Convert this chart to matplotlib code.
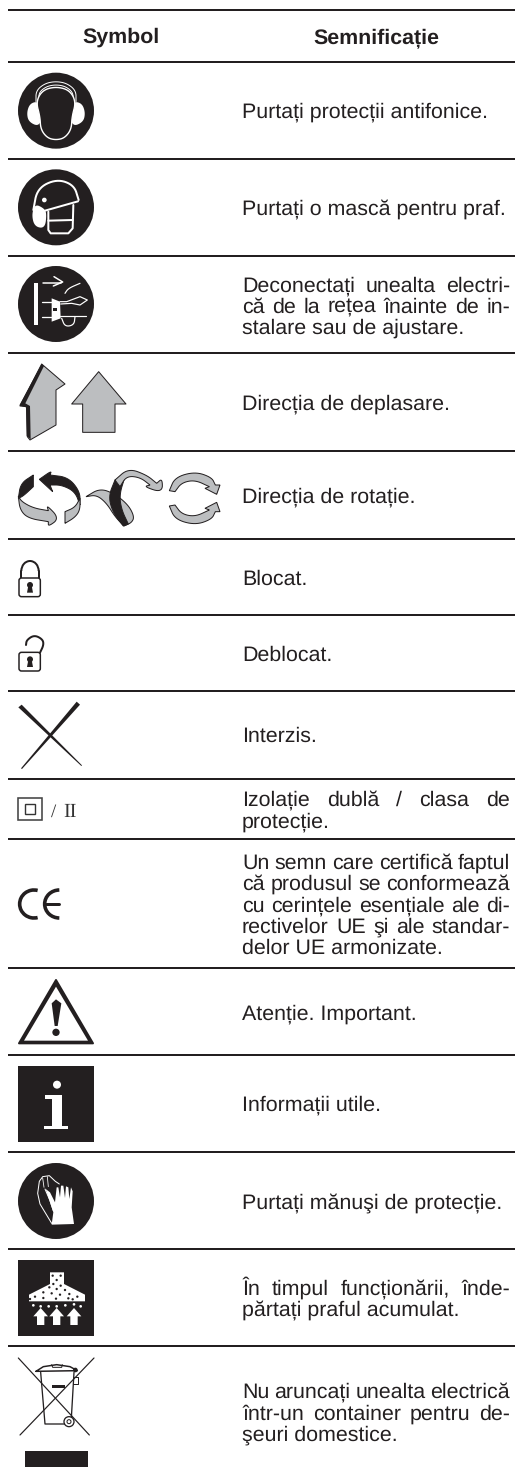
import numpy as np
import matplotlib
matplotlib.use('Agg')
import matplotlib.pyplot as plt
from matplotlib.patches import Polygon, Circle, Rectangle, Arc, FancyBboxPatch

# table contents
headers = ['Symbol', 'Semnificație']
header_x = [121, 376]
header_base = 43
rule_ys = [9.5, 62, 159, 256, 353, 451, 539, 615, 691, 779, 839, 968, 1055, 1152, 1249, 1346]

# (baseline, text, justified)
text_lines = [
    (118, 'Purtați protecții antifonice.', False),
    (215, 'Purtați o mască pentru praf.', False),
    (292, 'Deconectați unealta electri-', True),
    (313, 'că de la rețea înainte de in-', True),
    (334, 'stalare sau de ajustare.', False),
    (410, 'Direcția de deplasare.', False),
    (503, 'Direcția de rotație.', False),
    (585, 'Blocat.', False),
    (661, 'Deblocat.', False),
    (742, 'Interzis.', False),
    (806, 'Izolație dublă / clasa de', True),
    (828, 'protecție.', False),
    (869, 'Un semn care certifică faptul', True),
    (890, 'că produsul se conformează', True),
    (912, 'cu cerințele esențiale ale di-', True),
    (933, 'rectivelor UE şi ale standar-', True),
    (954, 'delor UE armonizate.', False),
    (1020, 'Atenție. Important.', False),
    (1111, 'Informații utile.', False),
    (1209, 'Purtați mănuşi de protecție.', False),
    (1295, 'În timpul funcționării, înde-', True),
    (1316, 'părtați praful acumulat.', False),
    (1398, 'Nu aruncați unealta electrică', True),
    (1420, 'într-un container pentru de-', True),
    (1441, 'şeuri domestice.', False),
]

INK = '#231f20'
GRAY = '#bcbec0'
TEXT_X = 242
TEXT_R = 510
FS = 15.4

plt.rcParams['font.family'] = ['Liberation Sans', 'DejaVu Sans']
plt.rcParams['text.hinting'] = 'none'

fig = plt.figure(figsize=(5.15, 14.74), dpi=100)
ax = fig.add_axes([0, 0, 1, 1])
ax.set_xlim(0, 515)
ax.set_ylim(1474, 0)
ax.axis('off')
px = 0.72  # one pixel in points


def z(pts, y0):
    a = np.array(pts, dtype=float) / 3
    a[:, 1] += y0
    return a


def smooth(a, closed=True, n=3):
    for _ in range(n):
        b = np.roll(a, -1, axis=0) if closed else a[1:]
        c = a if closed else a[:-1]
        q = 0.75 * c + 0.25 * b
        r = 0.25 * c + 0.75 * b
        new = np.empty((len(q) * 2, 2))
        new[0::2] = q
        new[1::2] = r
        if not closed:
            new = np.vstack([a[0], new, a[-1]])
        a = new
    return a


def poly(pts, y0, fc=INK, ec='none', lw=0, soft=False, zorder=2):
    a = z(pts, y0)
    if soft:
        a = smooth(a)
    ax.add_patch(Polygon(a, closed=True, fc=fc, ec=ec, lw=lw * px, joinstyle='round', zorder=zorder))


def curvy(parts, y0, fc=GRAY, ec=INK, lw=1):
    # outline made of curved runs that meet at sharp corners
    a = np.vstack([smooth(z(p, y0), closed=False) for p in parts])
    ax.add_patch(Polygon(a, closed=True, fc=fc, ec=ec, lw=lw * px, joinstyle='miter'))


def line(pts, y0, c=INK, lw=1, soft=False):
    a = z(pts, y0)
    if soft:
        a = smooth(a, closed=False)
    ax.plot(a[:, 0], a[:, 1], color=c, lw=lw * px, solid_capstyle='round')


def disc(x, y, r, y0, fc=INK, ec='none', lw=0, zorder=2):
    ax.add_patch(Circle((x / 3, y / 3 + y0), r / 3, fc=fc, ec=ec, lw=lw * px, zorder=zorder))


# rules, split in two columns with a hairline gap
for y in rule_ys:
    ax.plot([8, 233.6], [y, y], color=INK, lw=2 * px, solid_capstyle='butt')
    ax.plot([234.4, 515], [y, y], color=INK, lw=2 * px, solid_capstyle='butt')

# texts
for x, s in zip(header_x, headers):
    ax.text(x, header_base, s, ha='center', va='baseline', fontsize=FS, fontweight='bold', color=INK)

renderer = fig.canvas.get_renderer()
for base, s, just in text_lines:
    if not just:
        ax.text(TEXT_X, base, s, va='baseline', fontsize=FS, color=INK)
        continue
    words = s.split(' ')
    items = [ax.text(TEXT_X, base, w, va='baseline', fontsize=FS, color=INK) for w in words]
    widths = [t.get_window_extent(renderer).width for t in items]
    gap = (TEXT_R - TEXT_X - sum(widths)) / (len(words) - 1)
    x = TEXT_X
    for t, w in zip(items, widths):
        t.set_x(x)
        x += w + gap

# ear protection
y0 = 0
disc(168, 332, 114, y0)
line([(108, 305), (108, 272), (135, 250), (168, 244), (201, 250), (228, 272), (228, 305)], y0, 'white', 1, True)
line([(116, 298), (118, 276), (140, 259), (168, 254), (196, 259), (218, 276), (220, 298)], y0, 'white', 1, True)
poly([(116, 304), (90, 310), (80, 338), (86, 366), (118, 380), (128, 340)], y0, 'white', soft=True)
poly([(220, 304), (246, 310), (256, 338), (250, 366), (218, 380), (208, 340)], y0, 'white', soft=True)
poly([(168, 260), (128, 270), (108, 305), (120, 350), (122, 388), (142, 414), (168, 420),
      (194, 414), (214, 388), (216, 350), (228, 305), (208, 270)], y0, INK, 'white', 1.4, True)

# dust mask
disc(168, 622, 114, y0)
line([(100, 630), (112, 565), (170, 537), (222, 555), (236, 600)], y0, 'white', 2, True)
poly([(105, 612), (132, 625), (140, 640), (135, 685), (104, 680), (95, 645)], y0, 'white', soft=True)
disc(133, 600, 7, y0, 'white')
line([(135, 632), (234, 604)], y0, 'white', 2)
line([(145, 635), (145, 690), (152, 700), (205, 700), (218, 685), (220, 615)], y0, 'white', 2)
line([(145, 662), (218, 660)], y0, 'white', 2)

# unplug
disc(168, 912, 114, y0)
ax.add_patch(Rectangle((103 / 3, 850 / 3), 10 / 3, 125 / 3, fc='white', ec='none', zorder=3))
line([(130, 849), (182, 849)], y0, 'white', 1.5)
line([(162, 830), (188, 846), (160, 858)], y0, 'white', 1.5)
line([(125, 905), (160, 905)], y0, 'white', 1.3)
line([(125, 950), (160, 950)], y0, 'white', 1.3)
poly([(155, 895), (180, 905), (182, 955), (155, 965)], y0, 'white', zorder=3)
ax.add_patch(Rectangle((158 / 3, 925 / 3), 14 / 3, 8 / 3, fc=INK, ec='none', zorder=4))
line([(180, 905), (200, 905), (240, 890), (262, 900), (240, 915), (215, 910), (182, 912)], y0, 'white', 1.2)
line([(195, 880), (205, 865), (240, 850)], y0, 'white', 1.2, True)
line([(180, 948), (258, 948)], y0, 'white', 1.2)
line([(185, 955), (195, 980), (222, 975), (225, 950)], y0, 'white', 1.2, True)

# direction arrows
y0 = 370
poly([(125, -18), (195, 42), (168, 60), (168, 165), (90, 210), (82, 200), (80, 110), (60, 108)], y0, GRAY, INK, 1)
poly([(125, -18), (132, -12), (76, 100), (90, 108), (92, 208), (80, 198), (78, 112), (58, 106)], y0, INK)
poly([(296, 5), (378, 102), (345, 102), (345, 187), (248, 187), (248, 102), (215, 102)], y0, GRAY, INK, 1)

# rotation arrows
curvy([[(118, 328), (155, 302), (150, 315)], [(150, 315), (205, 322), (240, 365), (240, 405)],
       [(240, 405), (225, 365), (185, 345), (150, 345)], [(150, 345), (158, 365)]], y0, INK, INK)
curvy([[(100, 315), (62, 340), (55, 385)], [(55, 385), (70, 378), (100, 350)]], y0, INK, INK)
curvy([[(55, 378), (65, 395), (100, 414), (145, 422)], [(145, 422), (140, 405), (178, 445), (145, 470), (145, 455)],
       [(145, 455), (85, 445), (60, 420), (55, 378)]], y0)
curvy([[(240, 385), (240, 420), (225, 442), (195, 460)], [(195, 460), (195, 425)], [(195, 425), (225, 412), (240, 385)]], y0)
curvy([[(258, 380), (300, 355), (345, 372), (385, 405), (403, 440), (395, 458), (372, 468)],
       [(372, 468), (345, 440), (320, 400), (290, 375), (258, 380)]], y0)
curvy([[(345, 330), (325, 380), (340, 430), (370, 468)], [(370, 468), (385, 462)],
       [(385, 462), (365, 420), (358, 375), (375, 320)]], y0, INK, INK)
curvy([[(345, 330), (385, 295), (440, 315), (470, 340)], [(470, 340), (487, 325), (487, 368), (432, 350), (450, 345)],
       [(450, 345), (420, 322), (380, 318), (360, 350)]], y0)
top_outer = [(508, 362), (525, 322), (585, 305), (635, 322), (646, 345)]
top_head = [(646, 345), (660, 345)]
top_head2 = [(660, 345), (650, 373)]
top_head3 = [(650, 373), (615, 355)]
top_head4 = [(615, 355), (628, 350)]
top_inner = [(628, 350), (585, 330), (545, 338), (525, 365)]
top_parts = [top_outer, top_head, top_head2, top_head3, top_head4, top_inner]
curvy(top_parts, y0)
curvy([[(x, 770 - y) for x, y in p] for p in top_parts], y0)


def lock_body(ytop, y0):
    ax.add_patch(FancyBboxPatch((57 / 3, (ytop + 2) / 3 + y0), 64 / 3, 56 / 3, boxstyle='round,pad=0,rounding_size=2.5',
                                fc='white', ec=INK, lw=1.5 * px, zorder=3))
    disc(90, ytop + 23, 9, y0, zorder=4)
    ax.add_patch(Polygon(z([(85, ytop + 25), (95, ytop + 25), (99, ytop + 46), (81, ytop + 46)], y0), fc=INK, ec='none', zorder=4))


# locks
ax.add_patch(Arc((90 / 3, 603 / 3 + y0), 52 / 3, 60 / 3, theta1=180, theta2=360, ec=INK, lw=2 * px))
line([(64, 603), (64, 625)], y0, INK, 2)
line([(116, 603), (116, 625)], y0, INK, 2)
lock_body(622, y0)
line([(78, 825), (80, 810), (103, 795), (128, 808), (131, 825), (120, 848)], y0, INK, 2, True)
lock_body(845, y0)

# prohibited
poly([(55, 1012), (65, 1004), (246, 1186), (244, 1188)], y0, INK)
poly([(230, 995), (240, 1004), (66, 1197), (63, 1195)], y0, INK)

# double insulation
y0 = 740
ax.add_patch(Rectangle((55 / 3, 174 / 3 + y0), 70 / 3, 66 / 3, fc='none', ec='#444444', lw=1.6 * px))
ax.add_patch(Rectangle((75 / 3, 192 / 3 + y0), 31 / 3, 31 / 3, fc='none', ec='#333333', lw=1.4 * px))
ax.text(51, 230 / 3 + y0, '/', family='Liberation Serif', fontsize=13.5, color='#333333', va='baseline')
ax.text(63, 230 / 3 + y0, 'II', family='Liberation Serif', fontsize=14.5, color='#333333', va='baseline')

# CE mark
ax.add_patch(Arc((102 / 3, 492 / 3 + y0), 86 / 3, 84 / 3, theta1=75, theta2=285, ec=INK, lw=3.6 * px))
ax.add_patch(Arc((178 / 3, 492 / 3 + y0), 88 / 3, 84 / 3, theta1=90, theta2=270, ec=INK, lw=3.6 * px))
line([(137, 492), (178, 492)], y0, INK, 3)

# warning triangle
poly([(168, 720), (279, 910), (57, 910)], y0, INK, INK, 2)
poly([(168, 740), (264, 902), (72, 902)], y0, 'white')
poly([(155, 790), (168, 778), (184, 790), (173, 858), (164, 858)], y0, INK)
disc(168, 877, 11, y0)

# info square
ax.add_patch(Rectangle((18, 1066), 76, 76, fc=INK, ec='none'))
disc(171, 1034, 12, 740, 'white')
poly([(135, 1064), (186, 1064), (186, 1157), (205, 1157), (205, 1167), (133, 1167), (133, 1157), (155, 1157), (155, 1078), (135, 1078)], 740, 'white')

# gloves
y0 = 1104
disc(168, 291, 114, y0)
line([(155, 358), (120, 300), (113, 268), (118, 232), (128, 218), (148, 215), (166, 232), (178, 240)], y0, 'white', 1)
line([(135, 255), (150, 290), (160, 320)], y0, 'white', 1)
line([(128, 222), (132, 250)], y0, 'white', 0.8)
line([(142, 218), (145, 248)], y0, 'white', 0.8)
poly([(155, 362), (222, 360), (215, 310), (218, 262), (213, 250), (208, 285), (205, 250), (198, 247), (195, 282), (190, 245),
      (183, 245), (180, 280), (175, 250), (170, 250), (165, 295), (150, 265), (137, 255), (150, 295), (160, 325)], y0, 'white')

# dust extraction
ax.add_patch(Rectangle((18, 468 / 3 + y0), 76, 76, fc=INK, ec='none'))
poly([(150, 505), (192, 505), (192, 540), (255, 572), (255, 592), (87, 592), (87, 572), (150, 540)], y0, 'white')
for x, y in [(158, 515), (182, 515), (170, 528), (160, 540), (182, 545), (148, 550), (170, 555), (195, 558), (130, 565),
             (155, 568), (180, 572), (208, 570), (105, 578), (130, 582), (168, 584), (205, 583), (232, 578), (218, 586), (90, 585)]:
    disc(x, y, 3.5, y0)
for x in [100, 122, 146, 170, 196, 222, 242]:
    disc(x, 601 + (x % 3) * 3, 4, y0, 'white')
for x in [122, 170, 222]:
    poly([(x, 612), (x + 22, 637), (x + 11, 637), (x + 11, 663), (x - 11, 663), (x - 11, 637), (x - 22, 637)], y0, 'white')

# crossed out bin
line([(122, 805), (135, 960), (213, 960), (222, 805)], y0, INK, 1.3)
line([(108, 802), (130, 788), (170, 782), (210, 788), (232, 800), (108, 802)], y0, INK, 1.5)
line([(155, 782), (158, 790), (185, 790), (187, 782)], y0, INK, 1)
ax.add_patch(Rectangle((155 / 3, 843 / 3 + y0), 40 / 3, 9 / 3, fc=INK, ec='none'))
disc(226, 798, 7, y0)
line([(222, 820), (234, 820), (234, 840), (220, 840)], y0, INK, 1)
disc(207, 953, 15, y0, 'white', INK, 1.3)
disc(207, 953, 6, y0, 'white', INK, 1)
line([(55, 762), (268, 993)], y0, INK, 1.2)
line([(282, 762), (60, 993)], y0, INK, 1.2)
ax.add_patch(Rectangle((75 / 3, 1041 / 3 + y0), 189 / 3, 47 / 3, fc=INK, ec='none'))

fig.savefig('out.png', dpi=100)
